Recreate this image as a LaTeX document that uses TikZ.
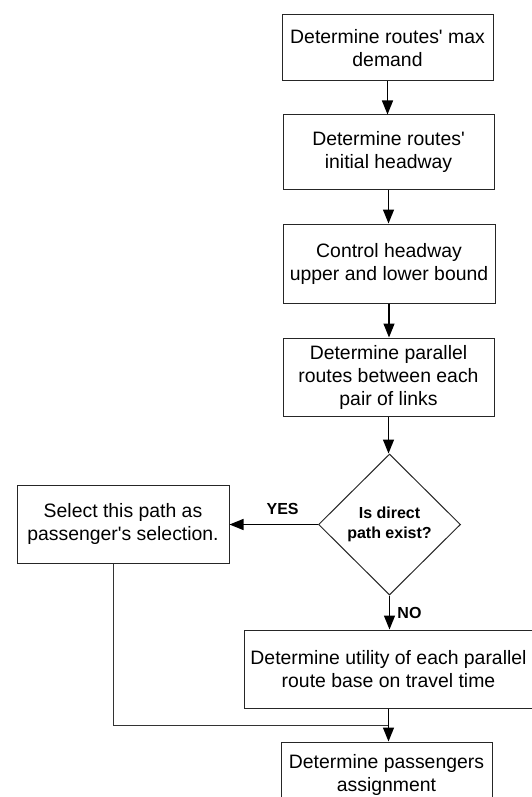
\documentclass[tikz,border=0pt]{standalone}
\usepackage{fontspec}
\setmainfont{Liberation Sans}[Ligatures=TeXOff]
\usetikzlibrary{shapes.geometric,arrows.meta}
\begin{document}
\begin{tikzpicture}[x=1pt,y=-1pt,
  box/.style={draw=black!85,line width=1pt,rectangle,inner sep=2pt,align=center,
    font=\fontsize{19.4}{23}\selectfont},
  decision/.style={draw=black!85,line width=1pt,diamond,inner sep=0pt,align=center,
    minimum width=142pt,minimum height=141pt,
    font=\fontsize{16}{20}\selectfont\bfseries},
  conn/.style={line width=1.3pt,-{Triangle[length=14pt,width=11pt]}},
  plain/.style={draw=black!80,line width=0.9pt},
  lbl/.style={font=\fontsize{16}{19}\selectfont\bfseries}]
\useasboundingbox[fill=white] (0,0) rectangle (532,797);
\node[box,minimum width=211pt,minimum height=66pt] (b1) at (387.5,48) {Determine routes' max\\demand};
\node[box,minimum width=211pt,minimum height=74pt] (b2) at (388.5,152) {Determine routes'\\initial headway};
\node[box,minimum width=212pt,minimum height=79pt] (b3) at (389,263.5) {Control headway\\upper and lower bound};
\node[box,minimum width=211pt,minimum height=78pt] (b4) at (388.5,377) {Determine parallel\\routes between each\\pair of links};
\node[decision] (d) at (389.5,524.5) {Is direct\\path exist?};
\node[box,minimum width=212pt,minimum height=78pt] (lb) at (123,524) {Select this path as\\passenger's selection.};
\node[box,minimum width=289pt,minimum height=78pt] (b6) at (388.5,669) {Determine utility of each parallel\\route base on travel time};
\node[box,minimum width=211pt,minimum height=66pt] (b7) at (386.5,775) {Determine passengers\\assignment};
\coordinate (j1) at (113,725);
\coordinate (j2) at (388,725);
\draw[conn] (b1.south) -- (b1.south |- b2.north);
\draw[conn] (b2.south) -- (b2.south |- b3.north);
\draw[conn] (b3.south) -- (b3.south |- b4.north);
\draw[conn] (b4.south) -- (b4.south |- d.north);
\draw[conn] (d.west) -- (lb.east |- d.west) node[lbl,pos=0.4,above=6pt] {YES};
\draw[conn] (d.south) -- (d.south |- b6.north) node[lbl,midway,right=4pt] {NO};
\draw[conn] (b6.south) -- (b6.south |- b7.north);
\draw[plain] (lb.south -| j1) -- (j1) -- (j2);
\end{tikzpicture}
\end{document}
